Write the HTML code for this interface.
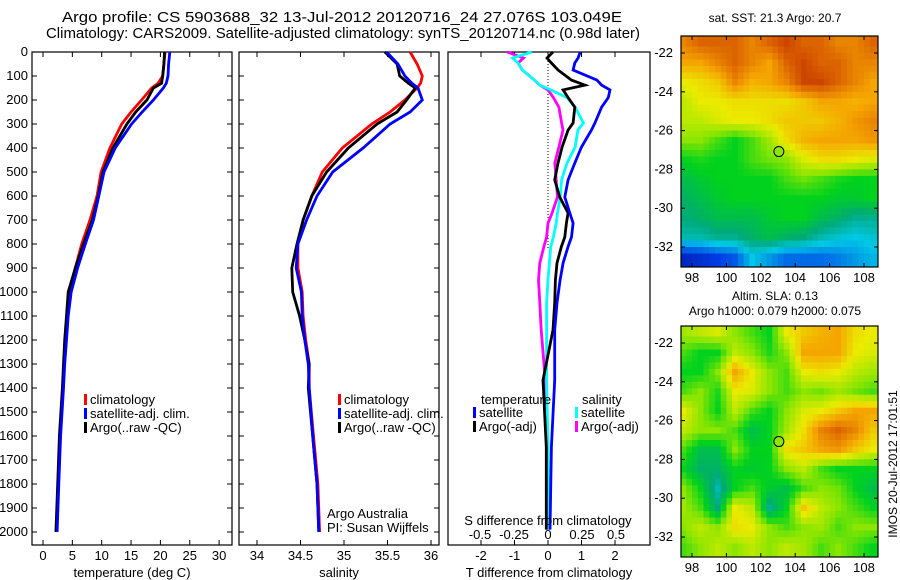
<!DOCTYPE html>
<html><head><meta charset="utf-8"><style>
body{margin:0;background:#fff;}
svg{display:block;font-family:"Liberation Sans",sans-serif;}
</style></head><body>
<svg id="fig" width="900" height="580" viewBox="0 0 900 580">
<rect width="900" height="580" fill="#fff"/>
<text x="62" y="22" font-size="15" textLength="560" lengthAdjust="spacingAndGlyphs">Argo profile: CS 5903688_32 13-Jul-2012 20120716_24 27.076S 103.049E</text>
<text x="46" y="38" font-size="15" textLength="594" lengthAdjust="spacingAndGlyphs">Climatology: CARS2009. Satellite-adjusted climatology: synTS_20120714.nc (0.98d later)</text>
<g id="g1"></g><g id="g2"></g><g id="g3"></g><g id="gm1"></g><g id="gm2"></g>
<text x="775" y="22" font-size="12" text-anchor="middle">sat. SST: 21.3 Argo: 20.7</text>
<text x="775" y="300" font-size="12" text-anchor="middle">Altim. SLA: 0.13</text>
<text x="775" y="315" font-size="12" text-anchor="middle">Argo h1000: 0.079 h2000: 0.075</text>
<text transform="translate(897,464) rotate(-90)" font-size="12" text-anchor="middle">IMOS 20-Jul-2012 17:01:51</text>
</svg>
<script>
// ---- data ----
const depths=[0,50,100,130,150,200,250,300,400,500,600,700,800,900,1000,1100,1200,1300,1400,1600,1800,2000];
const tempClim=[20.8,20.6,20.4,19.6,18.5,16.8,15.0,13.4,11.4,9.9,9.2,8.0,6.6,5.5,4.5,4.1,3.8,3.6,3.4,2.9,2.6,2.3];
const tempSat=[21.6,21.4,21.3,21.0,20.5,18.8,16.9,15.1,12.3,10.4,9.5,8.6,7.2,5.9,4.8,4.3,4.0,3.7,3.5,3.0,2.7,2.4];
const tempArgo=[20.7,20.6,20.4,20.2,18.8,17.7,15.8,14.3,11.9,10.2,9.4,8.4,6.9,5.5,4.3,4.0,3.7,3.5,3.3,2.8,2.5,2.2];
const salClim=[35.76,35.84,35.9,35.88,35.84,35.7,35.53,35.32,34.98,34.75,34.63,34.53,34.47,34.47,34.52,34.53,34.56,34.6,34.6,34.65,34.7,34.72];
const salSat=[35.49,35.62,35.7,35.78,35.85,35.9,35.76,35.53,35.22,34.87,34.69,34.57,34.47,34.45,34.51,34.52,34.55,34.59,34.6,34.64,34.69,34.71];
const salArgo=[35.47,35.61,35.64,35.74,35.82,35.72,35.61,35.38,35.05,34.8,34.63,34.53,34.46,34.4,34.41,34.49,34.55,34.6,34.59,34.64,34.69,34.71];
const diffDepths=[0,25,46,75,117,138,158,190,230,296,325,396,463,533,604,671,713,771,811,879,950,1046,1158,1367,1646,1990];
const tDiffSat=[0.96,0.9,0.8,0.75,1.46,1.6,1.85,1.8,1.6,1.4,1.3,1.0,0.8,0.6,0.5,0.65,0.75,0.7,0.6,0.45,0.36,0.27,0.2,0.2,0.1,0.06];
const tDiffArgo=[0.15,-0.03,0.1,0.3,0.7,1.1,0.45,0.6,0.8,0.75,0.6,0.42,0.3,0.2,0.35,0.6,0.55,0.5,0.4,0.27,0.22,0.2,0.15,-0.15,-0.05,-0.05];
const sDiffSat=[-0.12,-0.26,-0.22,-0.19,-0.1,-0.06,0.02,0.14,0.2,0.26,0.22,0.2,0.14,0.1,0.09,0.07,0.06,0.04,0.02,0.01,0,-0.01,-0.01,-0.01,0,0];
const sDiffArgo=[-0.3,-0.18,-0.22,-0.19,-0.1,-0.06,0.0,0.04,0.08,0.1,0.11,0.08,0.05,0.06,0.07,0.03,0.0,-0.01,-0.03,-0.06,-0.07,-0.06,-0.05,-0.02,0,0];
const depthTicks=[0,100,200,300,400,500,600,700,800,900,1000,1100,1200,1300,1400,1500,1600,1700,1800,1900,2000];
const tempTicks=[0,5,10,15,20,25,30];
const salTicks=[34,34.5,35,35.5,36];
const tdTicks=[-2,-1,0,1,2];
const sdTicks=[-0.5,-0.25,0,0.25,0.5];
const sdTickLabels=["-0.5","-0.25","0","0.25","0.5"];
const lonTicks=[98,100,102,104,106,108];
const latTicks=[-22,-24,-26,-28,-30,-32];
const gridLons=[97.5,98.5,99.5,100.5,101.5,102.5,103.5,104.5,105.5,106.5,107.5,108.5];
const gridLats=[-21.5,-22.5,-23.5,-24.5,-25.5,-26.5,-27.5,-28.5,-29.5,-30.5,-31.5,-32.5];
const sstGrid=[
[.85,.9,.9,.9,.85,.9,.95,.9,.9,.85,.85,.9],
[.8,.8,.85,.9,.85,.8,.9,.95,.9,.9,.85,.85],
[.7,.72,.75,.85,.78,.8,.85,.95,.95,.9,.85,.8],
[.65,.7,.7,.72,.72,.72,.72,.75,.8,.8,.78,.8],
[.65,.65,.68,.7,.7,.72,.75,.75,.75,.78,.82,.85],
[.6,.6,.55,.5,.55,.62,.72,.78,.8,.8,.8,.82],
[.5,.52,.5,.5,.55,.58,.6,.68,.72,.72,.7,.68],
[.45,.48,.5,.5,.5,.5,.55,.58,.55,.52,.5,.5],
[.42,.45,.48,.5,.5,.5,.5,.5,.5,.48,.48,.5],
[.4,.42,.45,.45,.45,.48,.5,.5,.45,.42,.38,.38],
[.35,.35,.38,.38,.42,.45,.42,.4,.35,.32,.3,.32],
[.1,.12,.15,.18,.3,.25,.2,.2,.2,.22,.25,.28]];
const slaGrid=[
[.62,.65,.68,.6,.55,.5,.7,.75,.78,.8,.72,.7],
[.55,.5,.5,.65,.6,.52,.6,.8,.8,.8,.7,.68],
[.5,.5,.6,.8,.7,.6,.55,.7,.72,.7,.65,.62],
[.55,.6,.52,.7,.68,.6,.55,.6,.58,.62,.58,.55],
[.7,.6,.5,.65,.55,.5,.6,.68,.7,.75,.8,.8],
[.65,.6,.6,.55,.45,.5,.62,.72,.85,.9,.85,.75],
[.55,.45,.45,.6,.5,.5,.72,.75,.8,.82,.75,.7],
[.5,.42,.42,.5,.48,.5,.6,.65,.55,.5,.5,.5],
[.6,.5,.35,.5,.55,.48,.45,.55,.6,.58,.5,.45],
[.62,.55,.4,.7,.65,.38,.5,.75,.65,.6,.55,.5],
[.6,.65,.6,.72,.7,.6,.55,.6,.62,.55,.6,.6],
[.55,.6,.65,.6,.65,.6,.65,.62,.55,.6,.55,.5]];
const argoLon=103.05, argoLat=-27.08;

// ---- helpers ----
const NS="http://www.w3.org/2000/svg";
function mk(p,t,a){const e=document.createElementNS(NS,t);for(const k in a)e.setAttribute(k,a[k]);p.appendChild(e);return e;}
const TOP=52,BOT=545,FS=13;
const yD=d=>TOP+d*0.24;
const xT=v=>43+v*5.87;
const xS=v=>257+(v-34)*87;
const xTD=v=>548+v*33.5;
const xSD=v=>548+v*136;
function frame(g,x0,x1,name){
  const r=mk(g,'rect',{x:x0,y:TOP,width:x1-x0,height:BOT-TOP,fill:'none',stroke:'#000','stroke-width':1.2});
  
  
}
function line(g,xs,ds,fx,col,name){
  const pts=xs.map((v,i)=>fx(v).toFixed(1)+','+yD(ds[i]).toFixed(1)).join(' ');
  const p=mk(g,'polyline',{points:pts,fill:'none',stroke:col,'stroke-width':2.8,'stroke-linejoin':'miter'});
  
  
}
function txt(g,x,y,s,name,anchor,size){const t=mk(g,'text',{x:x,y:y,'font-size':size||FS,'text-anchor':anchor||'start'});t.textContent=s;
  
  return t;}
function xticks(g,ticks,labels,fx,ly,name){
  ticks.forEach((t,i)=>{const x=fx(t);
    mk(g,'line',{x1:x,x2:x,y1:BOT,y2:BOT-5,stroke:'#000'});
    mk(g,'line',{x1:x,x2:x,y1:TOP,y2:TOP+5,stroke:'#000'});
    txt(g,x,ly,labels[i],name,'middle');
  });
}
function yticks(g,x0,x1){depthTicks.forEach(d=>{const y=yD(d);
  mk(g,'line',{x1:x0,x2:x0+5,y1:y,y2:y,stroke:'#000'});mk(g,'line',{x1:x1,x2:x1-5,y1:y,y2:y,stroke:'#000'});});}
function legend(g,x,y,col,s,name){mk(g,'rect',{x:x,y:y-10,width:3,height:11,fill:col});txt(g,x+6,y,s,name);}

// ---- panel 1 ----
const g1=document.getElementById('g1');


frame(g1,32,232,'temperature-axes');yticks(g1,32,232);
depthTicks.forEach(d=>txt(g1,28,yD(d)+4,String(d),'depth-tick-label','end'));
xticks(g1,tempTicks,tempTicks.map(String),xT,560,'temperature-tick-label');
txt(g1,132,577,'temperature (deg C)','x-axis-title-temperature','middle');
line(g1,tempClim,depths,xT,'#f00','temp-climatology-line');
line(g1,tempArgo,depths,xT,'#000','temp-argo-line');
line(g1,tempSat,depths,xT,'#00f','temp-satellite-line');
legend(g1,84,404,'#f00','climatology','legend-climatology');
legend(g1,84,418,'#00f','satellite-adj. clim.','legend-satellite');
legend(g1,84,432,'#000','Argo(..raw -QC)','legend-argo');

// ---- panel 2 ----
const g2=document.getElementById('g2');


frame(g2,239,439,'salinity-axes');yticks(g2,239,439);
xticks(g2,salTicks,salTicks.map(String),xS,560,'salinity-tick-label');
txt(g2,339,577,'salinity','x-axis-title-salinity','middle');
line(g2,salClim,depths,xS,'#f00','sal-climatology-line');
line(g2,salArgo,depths,xS,'#000','sal-argo-line');
line(g2,salSat,depths,xS,'#00f','sal-satellite-line');
legend(g2,338,404,'#f00','climatology','legend-climatology');
legend(g2,338,418,'#00f','satellite-adj. clim.','legend-satellite');
legend(g2,338,432,'#000','Argo(..raw -QC)','legend-argo');
txt(g2,327,518,'Argo Australia','credit-argo-australia');
txt(g2,327,532,'PI: Susan Wijffels','credit-pi');

// ---- panel 3 ----
const g3=document.getElementById('g3');


frame(g3,448,650,'difference-axes');
mk(g3,'line',{x1:548,x2:548,y1:TOP,y2:250,stroke:'#000','stroke-dasharray':'1,2'});
xticks(g3,tdTicks,tdTicks.map(String),xTD,560,'t-diff-tick-label');
txt(g3,549,577,'T difference from climatology','x-axis-title-tdiff','middle');
line(g3,sDiffArgo,diffDepths,xSD,'#f0f','sdiff-argo-line');
line(g3,sDiffSat,diffDepths,xSD,'#0ff','sdiff-satellite-line');
line(g3,tDiffArgo,diffDepths,xTD,'#000','tdiff-argo-line');
line(g3,tDiffSat,diffDepths,xTD,'#00f','tdiff-satellite-line');
txt(g3,481,404,'temperature','legend-temperature-header');
legend(g3,473,417,'#00f','satellite','legend-t-satellite');
legend(g3,473,431,'#000','Argo(-adj)','legend-t-argo');
txt(g3,582,404,'salinity','legend-salinity-header');
legend(g3,575,417,'#0ff','satellite','legend-s-satellite');
legend(g3,575,431,'#f0f','Argo(-adj)','legend-s-argo');
txt(g3,548,525,'S difference from climatology','s-diff-axis-title','middle');
sdTicks.forEach((t,i)=>txt(g3,xSD(t),539,sdTickLabels[i],'s-diff-tick-label','middle'));

// ---- maps ----
const cstops=[[0,[0,0,120]],[0.15,[0,60,230]],[0.3,[0,200,230]],[0.4,[0,170,120]],[0.5,[0,210,30]],[0.6,[140,230,0]],[0.7,[235,235,0]],[0.8,[245,165,0]],[0.9,[220,100,0]],[1,[190,40,0]]];
function cmap(v){for(let i=1;i<cstops.length;i++){if(v<=cstops[i][0]){const a=cstops[i-1],b=cstops[i],f=(v-a[0])/(b[0]-a[0]);
  return 'rgb('+a[1].map((c,k)=>Math.round(c+(b[1][k]-c)*f)).join(',')+')';}}return 'rgb(190,40,0)';}
function sample(grid,r,c){
  const R=grid.length,C=grid[0].length;
  r=Math.max(0,Math.min(R-1,r));c=Math.max(0,Math.min(C-1,c));
  const r0=Math.floor(r),c0=Math.floor(c),r1=Math.min(R-1,r0+1),c1=Math.min(C-1,c0+1),fr=r-r0,fc=c-c0;
  return grid[r0][c0]*(1-fr)*(1-fc)+grid[r0][c1]*(1-fr)*fc+grid[r1][c0]*fr*(1-fc)+grid[r1][c1]*fr*fc;
}
function map(id,grid,y0,y1,name){
  const g=document.getElementById(id);
  
  
  const X0=681,X1=878;
  const xL=lon=>692+(lon-98)*17.2;
  const ch=(y1-y0-37)/10;
  const yL=lat=>y0+17+(-22-lat)*ch;
  const cw=17.2;
  const cl=mk(g,'clipPath',{id:'clip'+id});mk(cl,'rect',{x:X0,y:y0,width:X1-X0,height:y1-y0});
  const cg=mk(g,'g',{'clip-path':'url(#clip'+id+')'});
  const SUB=3;
  for(let r=0;r<grid.length*SUB;r++)for(let c=0;c<grid[0].length*SUB;c++){
    const rr=(r+0.5)/SUB-0.5, cc=(c+0.5)/SUB-0.5;
    const v=sample(grid,rr,cc);
    const x=xL(gridLons[0])-cw/2+c*cw/SUB, y=yL(gridLats[0])-ch/2+r*ch/SUB;
    const cell=mk(cg,'rect',{x:x.toFixed(1),y:y.toFixed(1),width:(cw/SUB+0.6).toFixed(1),height:(ch/SUB+0.6).toFixed(1),fill:cmap(v)});
    
    
  }
  mk(g,'rect',{x:X0,y:y0,width:X1-X0,height:y1-y0,fill:'none',stroke:'#000','stroke-width':1.2});
  lonTicks.forEach(l=>{const x=xL(l);mk(g,'line',{x1:x,x2:x,y1:y1,y2:y1-4,stroke:'#000'});mk(g,'line',{x1:x,x2:x,y1:y0,y2:y0+4,stroke:'#000'});
    txt(g,x,y1+15,String(l),'lon-tick-label','middle');});
  latTicks.forEach(l=>{const y=yL(l);mk(g,'line',{x1:X0,x2:X0+4,y1:y,y2:y,stroke:'#000'});mk(g,'line',{x1:X1,x2:X1-4,y1:y,y2:y,stroke:'#000'});
    txt(g,673,y+4,String(l),'lat-tick-label','end');});
  const dot=mk(g,'circle',{cx:xL(argoLon),cy:yL(argoLat),r:5,fill:cmap(0.6),stroke:'#000','stroke-width':1});
  
  
}
map('gm1',sstGrid,36,267,'sst-map');
map('gm2',slaGrid,326,557,'sla-map');
</script>
</body></html>
